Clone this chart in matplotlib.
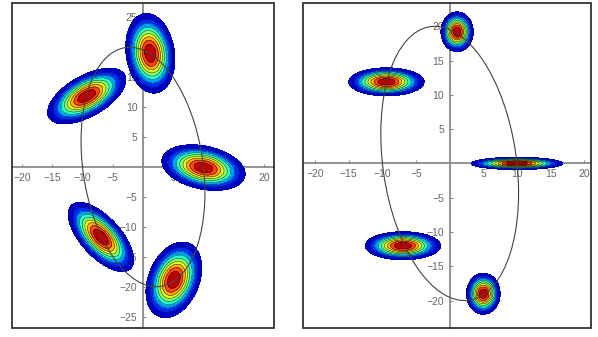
import numpy as np
import matplotlib
matplotlib.use("Agg")
import matplotlib.pyplot as plt
from matplotlib.patches import Ellipse, Rectangle

# blob centres, outer-contour semi-axes and tilt (deg) for each panel
left_cx = [10.0, 1.2, -9.3, -6.95, 5.1]
left_cy = [-0.1, 19.0, 11.85, -11.7, -18.85]
left_a = [7.0, 6.7, 7.2, 7.2, 6.6]
left_b = [3.6, 4.0, 3.4, 3.3, 4.2]
left_ang = [-12, 98, 30, -48, 68]

right_cx = [10.0, 1.1, -9.4, -6.95, 5.0]
right_cy = [0.0, 19.2, 11.9, -12.0, -19.0]
right_a = [6.8, 2.4, 5.6, 5.6, 2.5]
right_b = [0.9, 2.9, 2.05, 2.05, 3.0]
right_ang = [0, 0, 0, 0, 0]

# the orbit both panels share (full width, full height, tilt)
orbit_w, orbit_h, orbit_ang = 19.84, 40.32, 8.3

left_xt = [-20, -15, -10, -5, 5, 10, 15, 20]
left_yt = [-25, -20, -15, -10, -5, 5, 10, 15, 20, 25]
right_xt = [-20, -15, -10, -5, 5, 10, 15, 20]
right_yt = [-20, -15, -10, -5, 5, 10, 15, 20]

levels = np.linspace(np.exp(-2.0), 1.0, 10)


def panel(ax, cx, cy, a, b, ang, xt, yt, xlim, ylim):
    ax.set_xlim(xlim)
    ax.set_ylim(ylim)
    X, Y = np.meshgrid(np.linspace(xlim[0], xlim[1], 600),
                       np.linspace(ylim[0], ylim[1], 600))
    for x0, y0, sa, sb, th in zip(cx, cy, a, b, ang):
        t = np.deg2rad(th)
        u = (X - x0) * np.cos(t) + (Y - y0) * np.sin(t)
        v = -(X - x0) * np.sin(t) + (Y - y0) * np.cos(t)
        Z = np.exp(-2.0 * ((u / sa) ** 2 + (v / sb) ** 2))
        ax.contourf(X, Y, Z, levels=levels, cmap="jet", zorder=3)
        ax.contour(X, Y, Z, levels=levels[1:-1], colors="k",
                   linewidths=0.3, zorder=3.1)
    ax.add_patch(Ellipse((0, 0), orbit_w, orbit_h, angle=orbit_ang,
                         fill=False, ec="#444444", lw=0.8, zorder=4))

    for s in ["top", "right"]:
        ax.spines[s].set_visible(False)
    for s in ["left", "bottom"]:
        ax.spines[s].set_position("zero")
        ax.spines[s].set_color("#8a8a8a")
        ax.spines[s].set_linewidth(1.3)
    ax.set_xticks(xt)
    ax.set_yticks(yt)
    ax.tick_params(direction="in", length=2.5, width=0.8, color="#8a8a8a",
                   labelsize=7.5, labelcolor="#666666", pad=4)
    for lab in ax.get_xticklabels() + ax.get_yticklabels():
        lab.set_fontfamily("Liberation Sans")
    ax.add_patch(Rectangle((0, 0), 1, 1, transform=ax.transAxes, fill=False,
                           ec="#333333", lw=1.3, clip_on=False, zorder=5))


fig = plt.figure(figsize=(5.98, 3.37), dpi=100)
axL = fig.add_axes([12 / 598, 9 / 337, 262 / 598, 325 / 337])
axR = fig.add_axes([303 / 598, 9 / 337, 288 / 598, 325 / 337])

panel(axL, left_cx, left_cy, left_a, left_b, left_ang, left_xt, left_yt,
      (-21.65, 21.65), (-26.9, 27.4))
panel(axR, right_cx, right_cy, right_a, right_b, right_ang, right_xt, right_yt,
      (-21.8, 21.0), (-24.0, 23.4))

fig.savefig("out.png", dpi=100)
